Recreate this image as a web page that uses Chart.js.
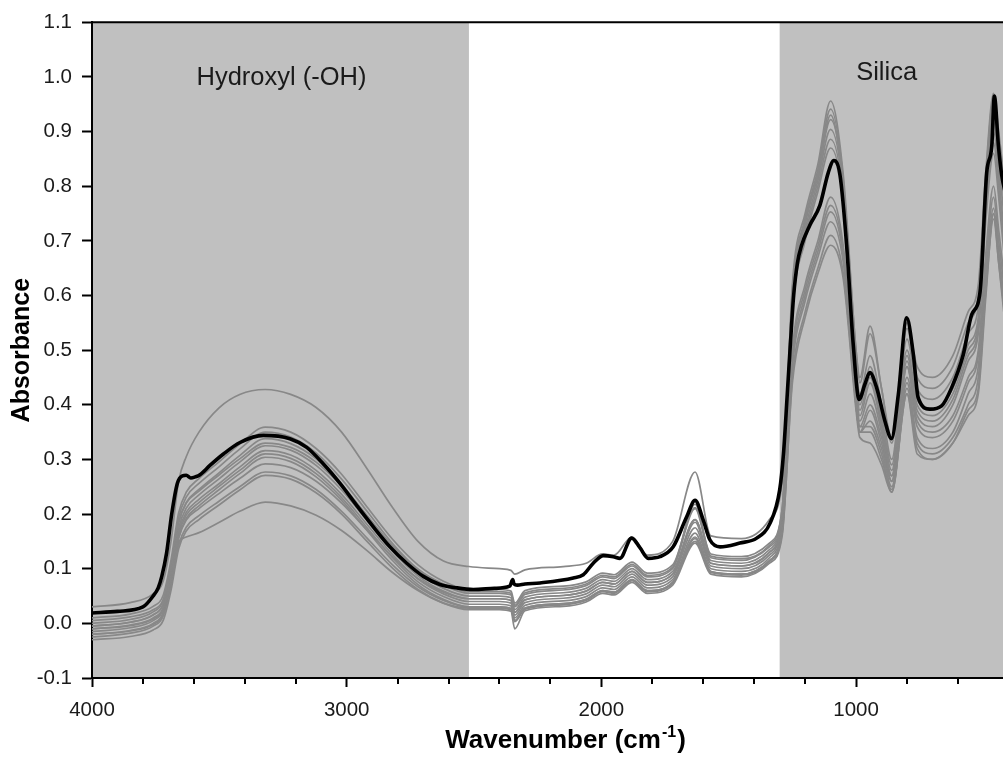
<!DOCTYPE html>
<html>
<head>
<meta charset="utf-8">
<title>FTIR spectra</title>
<script src="https://cdn.jsdelivr.net/npm/chart.js@4.4.1/dist/chart.umd.min.js"></script>
<style>
    html, body { margin: 0; padding: 0; background: #fff; overflow: hidden; }
    #wrap { position: relative; width: 1003px; height: 759px; }
</style>
</head>
<body>
<div id="wrap"><canvas id="chart_ftir"></canvas></div>
<script>
//----------------------------------------------------------------------------------------------------------------------------
// data: wavenumber (cm-1) vs absorbance
//----------------------------------------------------------------------------------------------------------------------------
var boldWavenumbers = [4000, 3900, 3800, 3760, 3740, 3726, 3707, 3687, 3665, 3645, 3630, 3612, 3595, 3576, 3537, 3484, 3419, 3327, 3223, 3157,
    3092, 3026, 2961, 2896, 2830, 2764, 2699, 2634, 2568, 2503, 2420, 2360, 2348, 2343, 2330, 2300, 2241, 2110, 2071, 2032,
    1992, 1953, 1927, 1881, 1848, 1816, 1770, 1718, 1665, 1632, 1600, 1574, 1534, 1456, 1390, 1338, 1300, 1285, 1270, 1258,
    1245, 1230, 1215, 1181, 1142, 1109, 1087, 1063, 1037, 1011, 988, 965, 946, 919, 887, 861, 834, 801, 775, 756,
    710, 664, 625, 579, 546, 513, 487, 467, 457, 441, 428, 410];
var boldAbsorbance = [0.019, 0.022, 0.03, 0.05, 0.065, 0.086, 0.129, 0.2, 0.256, 0.27, 0.271, 0.266, 0.268, 0.272, 0.289, 0.31, 0.331, 0.344, 0.338, 0.322,
    0.292, 0.256, 0.216, 0.177, 0.14, 0.11, 0.086, 0.071, 0.065, 0.062, 0.064, 0.068, 0.08, 0.072, 0.07, 0.072, 0.074, 0.083, 0.089, 0.11,
    0.124, 0.122, 0.119, 0.156, 0.138, 0.119, 0.122, 0.14, 0.195, 0.225, 0.189, 0.153, 0.14, 0.147, 0.156, 0.183, 0.244, 0.31, 0.42, 0.51,
    0.6, 0.66, 0.69, 0.729, 0.765, 0.825, 0.847, 0.82, 0.692, 0.51, 0.41, 0.438, 0.459, 0.431, 0.371, 0.338, 0.419, 0.559, 0.492, 0.413,
    0.392, 0.398, 0.431, 0.492, 0.565, 0.607, 0.825, 0.874, 0.965, 0.874, 0.82, 0.78];

var grayWavenumbers = [4000, 3850, 3760, 3720, 3690, 3660, 3630, 3580, 3500, 3420, 3320,
    3220, 3120, 3020, 2920, 2820, 2720, 2620, 2520,
    2400, 2355, 2340, 2300, 2150, 2060, 1995, 1950, 1880, 1820, 1720, 1632, 1570, 1450, 1340,
    1290, 1250, 1200, 1150, 1100, 1050, 1000, 985, 945, 900, 860, 800, 760, 700, 620, 560, 520, 490, 460, 440, 420];

var spectrum01 = [0.03, 0.038, 0.054, 0.078, 0.149, 0.26, 0.305, 0.35, 0.395, 0.419, 0.428,
    0.419, 0.395, 0.35, 0.283, 0.212, 0.15, 0.114, 0.104,
    0.1, 0.097, 0.09, 0.098, 0.104, 0.11, 0.127, 0.125, 0.158, 0.125, 0.15, 0.277, 0.16, 0.155, 0.19,
    0.26, 0.6, 0.74, 0.82, 0.93, 0.8, 0.5, 0.44, 0.53, 0.43, 0.34, 0.55, 0.47, 0.45, 0.49, 0.57, 0.62, 0.83, 0.97, 0.9, 0.82];
var spectrum02 = [0.01, 0.017, 0.031, 0.052, 0.115, 0.202, 0.24, 0.265, 0.296, 0.328, 0.359,
    0.35, 0.32, 0.273, 0.213, 0.154, 0.107, 0.077, 0.062,
    0.062, 0.059, 0.037, 0.06, 0.068, 0.076, 0.092, 0.089, 0.112, 0.092, 0.107, 0.212, 0.127, 0.122, 0.147,
    0.21, 0.62, 0.75, 0.84, 0.956, 0.82, 0.5, 0.45, 0.544, 0.43, 0.33, 0.54, 0.45, 0.43, 0.47, 0.55, 0.6, 0.82, 0.96, 0.88, 0.8];
var spectrum03 = [0.0, 0.007, 0.021, 0.042, 0.105, 0.193, 0.231, 0.256, 0.287, 0.319, 0.35,
    0.341, 0.312, 0.264, 0.205, 0.146, 0.099, 0.07, 0.055,
    0.055, 0.052, 0.03, 0.053, 0.061, 0.069, 0.085, 0.082, 0.105, 0.085, 0.1, 0.21, 0.12, 0.115, 0.14,
    0.2, 0.61, 0.74, 0.83, 0.941, 0.81, 0.47, 0.42, 0.49, 0.4, 0.3, 0.52, 0.43, 0.41, 0.45, 0.53, 0.58, 0.8, 0.94, 0.86, 0.78];
var spectrum04 = [-0.005, 0.002, 0.016, 0.036, 0.098, 0.184, 0.221, 0.245, 0.276, 0.307, 0.338,
    0.329, 0.301, 0.254, 0.197, 0.139, 0.093, 0.064, 0.05,
    0.05, 0.047, 0.025, 0.048, 0.056, 0.064, 0.08, 0.077, 0.1, 0.08, 0.095, 0.19, 0.115, 0.11, 0.135,
    0.2, 0.6, 0.73, 0.82, 0.922, 0.8, 0.45, 0.4, 0.47, 0.38, 0.29, 0.5, 0.41, 0.39, 0.43, 0.51, 0.56, 0.78, 0.92, 0.84, 0.75];
var spectrum05 = [0.005, 0.012, 0.025, 0.044, 0.103, 0.184, 0.22, 0.242, 0.272, 0.301, 0.33,
    0.322, 0.295, 0.251, 0.197, 0.142, 0.099, 0.072, 0.058,
    0.058, 0.055, 0.033, 0.056, 0.064, 0.072, 0.088, 0.085, 0.108, 0.088, 0.103, 0.218, 0.123, 0.118, 0.143,
    0.21, 0.59, 0.72, 0.81, 0.904, 0.79, 0.44, 0.39, 0.45, 0.37, 0.28, 0.49, 0.4, 0.38, 0.42, 0.5, 0.55, 0.77, 0.9, 0.82, 0.72];
var spectrum06 = [-0.01, -0.003, 0.01, 0.03, 0.091, 0.174, 0.211, 0.235, 0.265, 0.295, 0.325,
    0.317, 0.289, 0.244, 0.188, 0.132, 0.087, 0.059, 0.045,
    0.045, 0.042, 0.02, 0.043, 0.051, 0.059, 0.075, 0.072, 0.095, 0.075, 0.09, 0.19, 0.11, 0.105, 0.13,
    0.19, 0.58, 0.71, 0.8, 0.886, 0.78, 0.43, 0.38, 0.44, 0.36, 0.27, 0.48, 0.39, 0.37, 0.41, 0.49, 0.54, 0.76, 0.88, 0.8, 0.7];
var spectrum07 = [-0.015, -0.008, 0.005, 0.025, 0.084, 0.167, 0.203, 0.227, 0.256, 0.286, 0.316,
    0.308, 0.28, 0.236, 0.181, 0.126, 0.081, 0.054, 0.04,
    0.04, 0.037, 0.015, 0.038, 0.046, 0.054, 0.07, 0.067, 0.09, 0.07, 0.085, 0.175, 0.105, 0.1, 0.125,
    0.19, 0.57, 0.7, 0.79, 0.87, 0.77, 0.42, 0.37, 0.42, 0.35, 0.26, 0.47, 0.38, 0.36, 0.4, 0.48, 0.53, 0.74, 0.86, 0.78, 0.68];
var spectrum08 = [-0.02, -0.013, 0.0, 0.02, 0.079, 0.162, 0.198, 0.221, 0.251, 0.28, 0.31,
    0.302, 0.274, 0.23, 0.175, 0.12, 0.076, 0.049, 0.035,
    0.035, 0.032, 0.01, 0.033, 0.041, 0.049, 0.065, 0.062, 0.085, 0.065, 0.08, 0.165, 0.1, 0.095, 0.12,
    0.18, 0.5, 0.62, 0.7, 0.78, 0.69, 0.41, 0.36, 0.4, 0.34, 0.27, 0.47, 0.37, 0.35, 0.38, 0.45, 0.5, 0.68, 0.8, 0.72, 0.64];
var spectrum09 = [-0.025, -0.018, -0.005, 0.014, 0.074, 0.156, 0.192, 0.215, 0.245, 0.274, 0.304,
    0.296, 0.268, 0.225, 0.17, 0.115, 0.071, 0.044, 0.03,
    0.03, 0.027, 0.005, 0.028, 0.036, 0.044, 0.06, 0.057, 0.08, 0.06, 0.075, 0.155, 0.095, 0.09, 0.115,
    0.17, 0.49, 0.61, 0.69, 0.765, 0.68, 0.4, 0.35, 0.39, 0.33, 0.26, 0.45, 0.36, 0.34, 0.37, 0.44, 0.49, 0.66, 0.78, 0.7, 0.62];
var spectrum10 = [-0.01, -0.004, 0.008, 0.026, 0.081, 0.156, 0.189, 0.21, 0.238, 0.265, 0.292,
    0.285, 0.26, 0.22, 0.171, 0.122, 0.082, 0.057, 0.045,
    0.045, 0.042, 0.02, 0.043, 0.051, 0.059, 0.075, 0.072, 0.095, 0.075, 0.09, 0.185, 0.11, 0.105, 0.13,
    0.19, 0.48, 0.6, 0.68, 0.753, 0.67, 0.4, 0.35, 0.37, 0.32, 0.25, 0.44, 0.34, 0.32, 0.35, 0.42, 0.47, 0.64, 0.76, 0.68, 0.6];
var spectrum11 = [-0.02, -0.014, -0.002, 0.016, 0.069, 0.143, 0.176, 0.197, 0.224, 0.25, 0.277,
    0.27, 0.245, 0.205, 0.156, 0.107, 0.067, 0.042, 0.03,
    0.03, 0.027, 0.005, 0.028, 0.036, 0.044, 0.06, 0.057, 0.08, 0.06, 0.075, 0.15, 0.095, 0.09, 0.115,
    0.17, 0.47, 0.59, 0.67, 0.735, 0.66, 0.41, 0.36, 0.36, 0.31, 0.24, 0.43, 0.33, 0.31, 0.34, 0.4, 0.45, 0.62, 0.75, 0.67, 0.59];
var spectrum12 = [-0.03, -0.024, -0.012, 0.006, 0.06, 0.136, 0.169, 0.19, 0.217, 0.244, 0.271,
    0.264, 0.239, 0.2, 0.15, 0.101, 0.062, 0.037, 0.025,
    0.025, 0.022, -0.01, 0.023, 0.031, 0.039, 0.055, 0.052, 0.075, 0.055, 0.07, 0.147, 0.09, 0.085, 0.11,
    0.16, 0.45, 0.57, 0.65, 0.71, 0.64, 0.4, 0.35, 0.35, 0.3, 0.245, 0.42, 0.32, 0.3, 0.33, 0.39, 0.43, 0.61, 0.74, 0.66, 0.58];
var spectrum13 = [-0.005, 0.002, 0.015, 0.035, 0.09, 0.148, 0.158, 0.166, 0.185, 0.205, 0.222,
    0.215, 0.198, 0.17, 0.133, 0.093, 0.06, 0.037, 0.028,
    0.028, 0.025, 0.003, 0.026, 0.034, 0.042, 0.058, 0.055, 0.078, 0.058, 0.073, 0.158, 0.093, 0.088, 0.113,
    0.165, 0.44, 0.56, 0.64, 0.692, 0.63, 0.39, 0.34, 0.33, 0.29, 0.24, 0.42, 0.31, 0.3, 0.33, 0.38, 0.42, 0.6, 0.75, 0.66, 0.57];

var xTickValues = [4000, 3000, 2000, 1000];
var yTickValues = [-0.1, 0.0, 0.1, 0.2, 0.3, 0.4, 0.5, 0.6, 0.7, 0.8, 0.9, 1.0, 1.1];
var bandStarts = [4000, 1300];
var bandEnds = [2520, 400];
var bandNames = ["Hydroxyl (-OH)", "Silica"];

var FontName = '"Liberation Sans", Arial, Helvetica, sans-serif';

function ToPoints(xs, ys) {
    var pts = [];
    for (var i = 0; i < xs.length; i++) { pts.push({ x: xs[i], y: ys[i] }); }
    return pts;
}

// shaded regions, band captions, top frame, minor ticks and the x title
var ftirDecor = {
    id: 'ftirDecor',
    beforeDraw: function (chart) {
        var ctx = chart.ctx, a = chart.chartArea, xs = chart.scales.x;
        ctx.save();
        ctx.fillStyle = '#c0c0c0';
        for (var i = 0; i < bandStarts.length; i++) {
            var x1 = Math.max(a.left, Math.min(xs.getPixelForValue(bandStarts[i]), xs.getPixelForValue(bandEnds[i])));
            var x2 = Math.min(a.right, Math.max(xs.getPixelForValue(bandStarts[i]), xs.getPixelForValue(bandEnds[i])));
            ctx.fillRect(x1, a.top, x2 - x1, a.bottom - a.top);
        }
        ctx.restore();
    },
    afterDatasetsDraw: function (chart) {
        var ctx = chart.ctx, xs = chart.scales.x, ys = chart.scales.y;
        var spots = [[3256, 0.986], [880, 0.995]];   // caption baselines (wavenumber, absorbance)
        ctx.save();
        ctx.font = '25.5px ' + FontName;
        ctx.fillStyle = '#1a1a1a';
        ctx.textAlign = 'center';
        ctx.textBaseline = 'alphabetic';
        for (var i = 0; i < bandNames.length; i++) {
            ctx.fillText(bandNames[i], xs.getPixelForValue(spots[i][0]), ys.getPixelForValue(spots[i][1]));
        }
        ctx.restore();
    },
    afterDraw: function (chart) {
        var ctx = chart.ctx, a = chart.chartArea, xs = chart.scales.x;
        ctx.save();
        ctx.strokeStyle = '#000';
        ctx.lineWidth = 2;
        ctx.beginPath();
        ctx.moveTo(a.left - 1, a.top);
        ctx.lineTo(a.right, a.top);
        // minor ticks every 200
        for (var w = 3800; w > xs.min; w -= 200) {
            if (w % 1000 === 0) { continue; }
            var px = Math.round(xs.getPixelForValue(w));
            ctx.moveTo(px, a.bottom);
            ctx.lineTo(px, a.bottom + 6);
        }
        ctx.stroke();

        // x axis title with superscript
        var main = 'Wavenumber (cm', sup = '-1', tail = ')';
        ctx.fillStyle = '#000';
        ctx.textBaseline = 'alphabetic';
        ctx.textAlign = 'left';
        ctx.font = 'bold 26px ' + FontName;
        var w1 = ctx.measureText(main).width, w3 = ctx.measureText(tail).width;
        ctx.font = 'bold 16px ' + FontName;
        var w2 = ctx.measureText(sup).width;
        var x0 = (a.left + a.right) / 2 + 17 - (w1 + w2 + w3) / 2;
        var base = 748;
        ctx.font = 'bold 26px ' + FontName;
        ctx.fillText(main, x0, base);
        ctx.font = 'bold 16px ' + FontName;
        ctx.fillText(sup, x0 + w1 + 1, base - 11);
        ctx.font = 'bold 26px ' + FontName;
        ctx.fillText(tail, x0 + w1 + w2 + 2, base);
        ctx.restore();
    }
};

function DrawSpectra() {
    var grays = [spectrum01, spectrum02, spectrum03, spectrum04, spectrum05, spectrum06, spectrum07,
        spectrum08, spectrum09, spectrum10, spectrum11, spectrum12, spectrum13];
    var datasets = [{
        label: 'bold',
        data: ToPoints(boldWavenumbers, boldAbsorbance),
        borderColor: '#000',
        borderWidth: 3.6
    }];
    for (var i = 0; i < grays.length; i++) {
        datasets.push({
            label: 'sample ' + (i + 1),
            data: ToPoints(grayWavenumbers, grays[i]),
            borderColor: '#888888',
            borderWidth: 1.7
        });
    }

    new Chart(document.getElementById("chart_ftir"), {
        type: 'line',
        data: { datasets: datasets },
        plugins: [ftirDecor],
        options: {
            responsive: true,
            maintainAspectRatio: false,
            animation: false,
            devicePixelRatio: 1,
            layout: { padding: { top: 18, right: 0, bottom: 0, left: 0 } },
            elements: {
                point: { radius: 0 },
                line: { cubicInterpolationMode: 'monotone', fill: false, borderJoinStyle: 'round' }
            },
            plugins: {
                legend: { display: false },
                tooltip: { enabled: false }
            },
            scales: {
                x: {
                    type: 'linear',
                    reverse: true,
                    min: 423,
                    max: 4000,
                    afterBuildTicks: function (scale) { scale.ticks = xTickValues.map(function (v) { return { value: v }; }); },
                    afterFit: function (scale) { scale.height = 81; },
                    grid: { drawOnChartArea: false, tickLength: 9, tickWidth: 2, tickColor: '#000' },
                    border: { display: true, color: '#000', width: 2 },
                    ticks: {
                        color: '#1a1a1a',
                        padding: 11,
                        maxRotation: 0,
                        font: { family: FontName, size: 20.5 },
                        callback: function (v) { return String(v); }
                    },
                    title: { display: false }
                },
                y: {
                    min: -0.1,
                    max: 1.1,
                    afterBuildTicks: function (scale) { scale.ticks = yTickValues.map(function (v) { return { value: v }; }); },
                    afterFit: function (scale) { scale.width = 92; },
                    grid: { drawOnChartArea: false, tickLength: 10, tickWidth: 2, tickColor: '#000' },
                    border: { display: true, color: '#000', width: 2 },
                    ticks: {
                        color: '#1a1a1a',
                        padding: 10,
                        font: { family: FontName, size: 20.5 },
                        callback: function (v) { return Number(v).toFixed(1); }
                    },
                    title: {
                        display: true,
                        text: 'Absorbance',
                        color: '#000',
                        padding: { top: 7, bottom: 0 },
                        font: { family: FontName, size: 25, weight: 'bold' }
                    }
                }
            }
        }
    });
}

DrawSpectra();
</script>
</body>
</html>
